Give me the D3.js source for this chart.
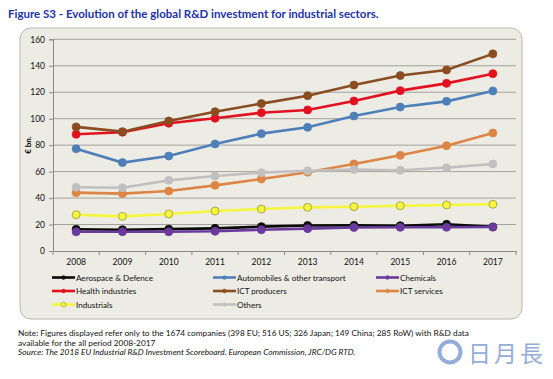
<!DOCTYPE html>
<html><head><meta charset="utf-8">
<script src="https://cdnjs.cloudflare.com/ajax/libs/d3/7.8.5/d3.min.js"></script>
<style>body{margin:0;background:#fff}svg{display:block;font-family:Lato,"Open Sans",sans-serif}</style>
</head><body><svg id="c" width="553" height="379"></svg>
<script>
const years = ["2008","2009","2010","2011","2012","2013","2014","2015","2016","2017"];
const yTicks = [0,20,40,60,80,100,120,140,160];
const aerospace = [16.4,16.1,16.5,17.1,18.4,19.3,19.4,19.1,20.2,18.2];
const automobiles = [77.3,66.8,71.8,80.9,88.7,93.5,102,108.8,113.1,121];
const chemicals = [14.5,14.6,14.5,14.9,16.1,16.9,17.8,17.9,17.9,18.1];
const health = [88.2,89.8,96.6,100.3,104.5,106.6,113.4,121.2,126.7,134];
const ictProducers = [93.8,90.2,98.3,105.3,111.4,117.4,125.4,132.6,136.8,149];
const ictServices = [44.1,43.4,45.3,49.6,54.4,59.5,65.8,72.3,79.6,89.2];
const industrials = [27.4,26.2,28,30.2,31.7,33,33.5,34.2,34.8,35.3];
const others = [48.2,47.8,53.4,56.7,59.2,60.6,61.6,61,63,65.8];
const seriesNames = ["Aerospace & Defence","Automobiles & other transport","Chemicals","Health industries","ICT producers","ICT services","Industrials","Others"];
const seriesValues = [aerospace,automobiles,chemicals,health,ictProducers,ictServices,industrials,others];
const colors = ["#0a0a0a","#4f7fb8","#6a3a9c","#e3111f","#8a4d22","#dd8544","#f6f63c","#c0c0c0"];
const markerStroke = ["#0a0a0a","#4f7fb8","#6a3a9c","#e3111f","#8a4d22","#dd8544","#a8a84a","#c0c0c0"];

const svg = d3.select("#c");
svg.append("text").attr("x",8).attr("y",18).attr("fill","#2233aa").attr("font-weight","bold")
  .attr("font-size",11.5).text("Figure S3 - Evolution of the global R&D investment for industrial sectors.");

svg.append("rect").attr("x",20).attr("y",28).attr("width",502).attr("height",291).attr("rx",11)
  .attr("fill","#edece4").attr("stroke","#b8b6ad").attr("stroke-width",1);

const x = d3.scaleBand().domain(years).range([53,516]);
const y = d3.scaleLinear().domain([0,160]).range([251,39.3]);

const g = svg.append("g");
g.selectAll("line.grid").data(yTicks.filter(d=>d>0)).enter().append("line")
  .attr("x1",53).attr("x2",516).attr("y1",d=>y(d)).attr("y2",d=>y(d))
  .attr("stroke","#a2a19b").attr("stroke-width",1);

const yAxis = g.append("g").attr("transform","translate(53,0)")
  .call(d3.axisLeft(y).tickValues(yTicks).tickSize(4).tickPadding(4));
const xAxis = g.append("g").attr("transform","translate(0,251)")
  .call(d3.axisBottom(x).tickSize(0).tickPadding(8));
[yAxis,xAxis].forEach(a=>{a.select(".domain").attr("stroke","#8a8984");
  a.selectAll("text").attr("font-size",8.5).attr("fill","#111").attr("font-family","Lato,sans-serif");
  a.selectAll(".tick line").attr("stroke","#8a8984");});
const bounds = years.map((d,i)=>x(d)).concat([x.range()[1]]);
g.selectAll("line.xt").data(bounds).enter().append("line")
  .attr("x1",d=>d).attr("x2",d=>d).attr("y1",251).attr("y2",255).attr("stroke","#8a8984");

svg.append("text").attr("transform","translate(31,145) rotate(-90)").attr("text-anchor","middle")
  .attr("font-size",8).attr("font-weight","bold").text("€ bn.");

const line = d3.line().x((d,i)=>x(years[i])+x.bandwidth()/2).y(d=>y(d));
seriesValues.forEach((vals,k)=>{
  const sg = g.append("g");
  sg.append("path").datum(vals).attr("d",line).attr("fill","none").attr("stroke",colors[k]).attr("stroke-width",2.6);
  sg.selectAll("circle").data(vals).enter().append("circle")
    .attr("cx",(d,i)=>x(years[i])+x.bandwidth()/2).attr("cy",d=>y(d)).attr("r",4)
    .attr("fill",colors[k]).attr("stroke",markerStroke[k]).attr("stroke-width",k===6?1:0.8);
});

const colX = [52,213,376], rowY = [277.5,291,304.5];
seriesNames.forEach((n,k)=>{
  const cx = colX[k%3], cy = rowY[Math.floor(k/3)];
  const lg = svg.append("g");
  lg.append("line").attr("x1",cx).attr("x2",cx+23).attr("y1",cy).attr("y2",cy).attr("stroke",colors[k]).attr("stroke-width",2.6);
  lg.append("circle").attr("cx",cx+11.5).attr("cy",cy).attr("r",k===6?2.5:1.8).attr("fill",colors[k]).attr("stroke",markerStroke[k]).attr("stroke-width",0.8);
  lg.append("text").attr("x",cx+24).attr("y",cy+3).attr("font-size",8.1).attr("fill","#111").text(n);
});

const notes = svg.append("g").attr("font-size",8.3).attr("fill","#111");
notes.append("text").attr("x",18).attr("y",336).text("Note: Figures displayed refer only to the 1674 companies (398 EU; 516 US; 326 Japan; 149 China; 285 RoW) with R&D data");
notes.append("text").attr("x",18).attr("y",345.5).text("available for the all period 2008-2017");
notes.append("text").attr("x",18).attr("y",355).attr("font-style","italic").text("Source: The 2018 EU Industrial R&D Investment Scoreboard. European Commission, JRC/DG RTD.");

const wm = svg.append("g").attr("fill","#93acd8");
wm.append("circle").attr("cx",450).attr("cy",352).attr("r",10.5).attr("fill","none").attr("stroke","#93acd8").attr("stroke-width",4);
wm.append("text").attr("x",468).attr("y",362).attr("font-size",23).attr("letter-spacing",3).attr("font-family","'Noto Sans CJK TC',sans-serif").text("日月長");
</script></body></html>
